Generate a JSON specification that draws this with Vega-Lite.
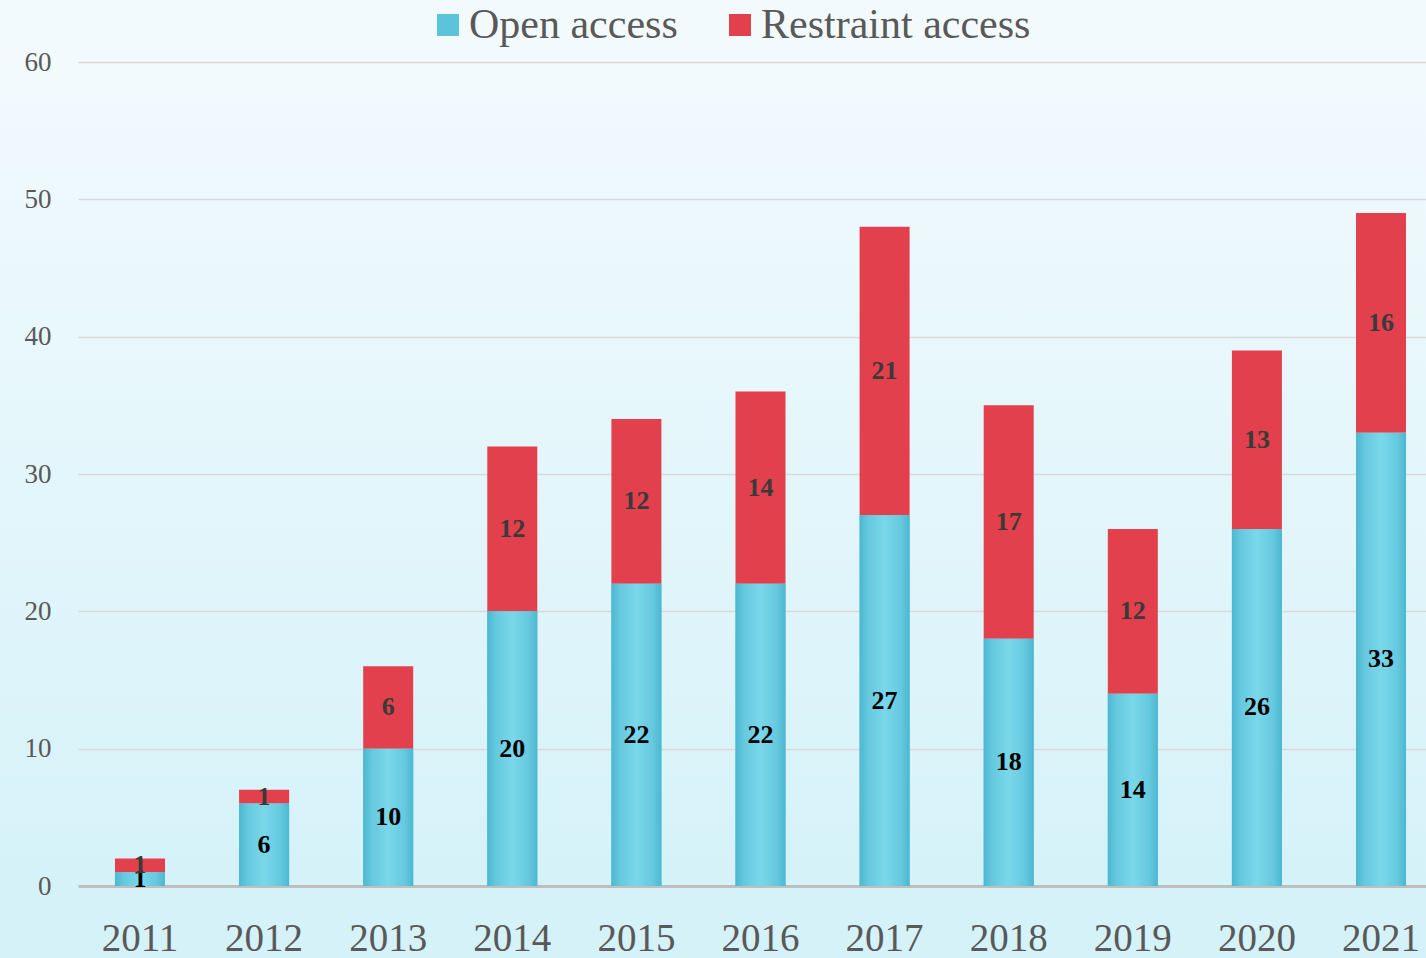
{
  "$schema": "https://vega.github.io/schema/vega-lite/v6.json",
  "width": 1365,
  "height": 824,
  "autosize": {"type": "none"},
  "padding": {"left": 78, "top": 62, "right": 0, "bottom": 72},
  "background": "#e4f6fb",
  "config": {
    "font": "Liberation Serif",
    "view": {
      "fill": {"gradient": "linear", "x1": 0, "y1": 0, "x2": 0, "y2": 1, "stops": [{"offset": 0, "color": "#f2fafd"}, {"offset": 1, "color": "#d5f2f9"}]},
      "stroke": {"gradient": "linear", "x1": 0, "y1": 0, "x2": 0, "y2": 1, "stops": [{"offset": 0, "color": "#f2fafd"}, {"offset": 1, "color": "#d5f2f9"}]},
      "strokeWidth": 200
    }
  },
  "data": {
    "values": [
      {"year": "2011", "series": "Open access", "value": 1},
      {"year": "2011", "series": "Restraint access", "value": 1},
      {"year": "2012", "series": "Open access", "value": 6},
      {"year": "2012", "series": "Restraint access", "value": 1},
      {"year": "2013", "series": "Open access", "value": 10},
      {"year": "2013", "series": "Restraint access", "value": 6},
      {"year": "2014", "series": "Open access", "value": 20},
      {"year": "2014", "series": "Restraint access", "value": 12},
      {"year": "2015", "series": "Open access", "value": 22},
      {"year": "2015", "series": "Restraint access", "value": 12},
      {"year": "2016", "series": "Open access", "value": 22},
      {"year": "2016", "series": "Restraint access", "value": 14},
      {"year": "2017", "series": "Open access", "value": 27},
      {"year": "2017", "series": "Restraint access", "value": 21},
      {"year": "2018", "series": "Open access", "value": 18},
      {"year": "2018", "series": "Restraint access", "value": 17},
      {"year": "2019", "series": "Open access", "value": 14},
      {"year": "2019", "series": "Restraint access", "value": 12},
      {"year": "2020", "series": "Open access", "value": 26},
      {"year": "2020", "series": "Restraint access", "value": 13},
      {"year": "2021", "series": "Open access", "value": 33},
      {"year": "2021", "series": "Restraint access", "value": 16}
    ]
  },
  "transform": [
    {"stack": "value", "groupby": ["year"], "sort": [{"field": "series", "order": "ascending"}], "as": ["v0", "v1"]},
    {"calculate": "(datum.v0 + datum.v1) / 2", "as": "mid"}
  ],
  "encoding": {
    "x": {
      "field": "year",
      "type": "ordinal",
      "scale": {"paddingInner": 0.597, "paddingOuter": 0.298},
      "axis": {
        "title": null,
        "labelAngle": 0,
        "labelFontSize": 39,
        "labelColor": "#595959",
        "labelPadding": 33,
        "ticks": false,
        "domainColor": "#bfbfbf",
        "domainWidth": 3,
        "labelOverlap": false,
        "labelBound": false
      }
    }
  },
  "layer": [
    {
      "mark": {"type": "bar"},
      "encoding": {
        "y": {
          "field": "v0",
          "type": "quantitative",
          "scale": {"domain": [0, 60], "nice": false},
          "axis": {
            "title": null,
            "values": [0, 10, 20, 30, 40, 50, 60],
            "ticks": false,
            "domain": false,
            "labelFontSize": 27,
            "labelColor": "#595959",
            "labelPadding": 27,
            "gridColor": "#d9d9d9",
            "gridWidth": 1.5
          }
        },
        "y2": {"field": "v1"},
        "color": {
          "field": "series",
          "type": "nominal",
          "scale": {
            "domain": ["Open access", "Restraint access"],
            "range": ["#5cc3db", "#e2404c"]
          },
          "legend": {
            "title": null,
            "orient": "none",
            "legendX": 349,
            "legendY": -58,
            "direction": "horizontal",
            "columns": 2,
            "columnPadding": 41,
            "symbolType": "square",
            "symbolSize": 484,
            "symbolStrokeWidth": 0,
            "symbolOpacity": 1,
            "labelFontSize": 42,
            "labelColor": "#595959",
            "labelOffset": 0,
            "labelLimit": 400
          }
        }
      }
    },
    {
      "transform": [{"filter": "datum.series === 'Open access'"}],
      "mark": {
        "type": "bar",
        "color": {"gradient": "linear", "x1": 0, "y1": 0, "x2": 1, "y2": 0, "stops": [{"offset": 0, "color": "#4db7d1"}, {"offset": 0.18, "color": "#66c9df"}, {"offset": 0.5, "color": "#7ad7ea"}, {"offset": 0.82, "color": "#66c9df"}, {"offset": 1, "color": "#4db7d1"}]}
      },
      "encoding": {
        "y": {"field": "v0", "type": "quantitative"},
        "y2": {"field": "v1"}
      }
    },
    {
      "mark": {"type": "text", "fontWeight": "bold", "fontSize": 26, "baseline": "middle"},
      "encoding": {
        "y": {"field": "mid", "type": "quantitative"},
        "text": {"field": "value", "type": "quantitative"},
        "color": {
          "condition": {"test": "datum.series === 'Open access'", "value": "#000000"},
          "value": "#3a3a3a"
        }
      }
    }
  ]
}
